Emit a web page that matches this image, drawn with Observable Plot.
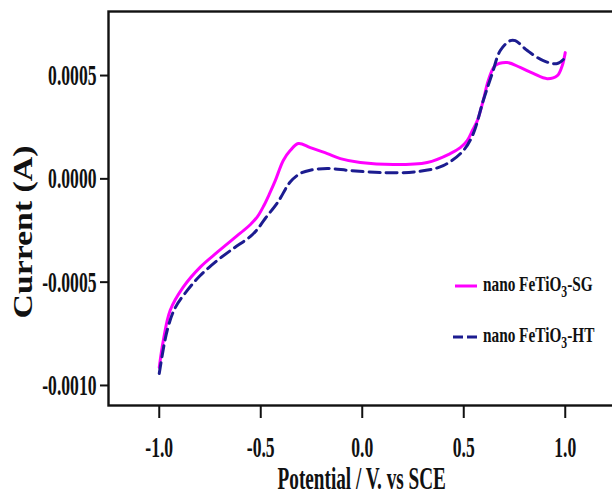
<!DOCTYPE html>
<html><head><meta charset="utf-8">
<script src="https://cdn.jsdelivr.net/npm/d3@7"></script>
<script src="https://cdn.jsdelivr.net/npm/@observablehq/plot@0.6"></script>
<style>
html,body{margin:0;padding:0;background:#fff;overflow:hidden;width:612px;height:496px;}
#chart{position:relative;width:612px;height:496px;overflow:hidden;}
#chart svg{max-width:none !important;width:640px !important;height:496px !important;display:block;}
</style></head><body><div id="chart"></div>
<script>
// Series: nano FeTiO3-SG (solid magenta)
const sgPotential = [-1.0, -0.98, -0.946, -0.882, -0.798, -0.714, -0.601, -0.552, -0.517, -0.485, -0.455, -0.429, -0.389, -0.355, -0.315, -0.256, -0.172, -0.108, -0.010, 0.153, 0.320, 0.433, 0.483, 0.517, 0.542, 0.567, 0.596, 0.621, 0.655, 0.714, 0.778, 0.842, 0.911, 0.961, 0.985, 1.0];
const sgCurrent = [-0.000913, -0.000782, -0.000636, -0.000524, -0.000427, -0.000355, -0.000263, -0.000222, -0.000184, -0.000130, -0.000068, -0.000010, 0.000089, 0.000137, 0.000171, 0.000151, 0.000122, 0.000098, 0.000079, 0.000069, 0.000079, 0.000122, 0.000151, 0.000185, 0.000233, 0.000282, 0.000379, 0.000476, 0.000548, 0.000563, 0.000539, 0.000510, 0.000485, 0.000500, 0.000548, 0.000611];
// Series: nano FeTiO3-HT (dashed navy)
const htPotential = [-1.0, -0.961, -0.921, -0.862, -0.798, -0.714, -0.635, -0.552, -0.515, -0.478, -0.414, -0.355, -0.305, -0.256, -0.172, -0.059, 0.103, 0.271, 0.399, 0.498, 0.547, 0.596, 0.640, 0.680, 0.729, 0.754, 0.813, 0.892, 0.961, 1.0];
const htCurrent = [-0.000942, -0.000734, -0.000623, -0.000540, -0.000468, -0.000395, -0.000337, -0.000280, -0.000242, -0.000192, -0.000110, -0.000015, 0.000026, 0.000042, 0.000050, 0.000040, 0.000030, 0.000035, 0.000064, 0.000137, 0.000219, 0.000379, 0.000509, 0.000621, 0.000669, 0.000669, 0.000621, 0.000572, 0.000558, 0.000587];

const xTicks = [-1.0, -0.5, 0.0, 0.5, 1.0];
const yTicks = [-0.0010, -0.0005, 0.0000, 0.0005];
const seriesNames = ["SG", "HT"];
const seriesColors = ["#ff00ff", "#1c1c90"];
const xLabel = "Potential / V. vs SCE";
const yLabel = "Current (A)";

const sg = sgPotential.map((v, k) => ({v, i: sgCurrent[k]}));
const ht = htPotential.map((v, k) => ({v, i: htCurrent[k]}));

const FONT = "'Liberation Serif', 'Times New Roman', serif";

const plot = Plot.plot({
  width: 640, height: 496,
  marginLeft: 108, marginRight: 24.5, marginTop: 11, marginBottom: 91,
  style: {fontFamily: FONT, fontWeight: "bold", fontSize: "22px", color: "#111", background: "#fff", overflow: "visible", maxWidth: "none"},
  x: {domain: [-1.25, 1.25]},
  y: {domain: [-0.001097, 0.000810]},
  marks: [
    Plot.line(sg, {x: "v", y: "i", stroke: seriesColors[0], strokeWidth: 3, curve: "catmull-rom"}),
    Plot.line(ht, {x: "v", y: "i", stroke: seriesColors[1], strokeWidth: 3, strokeDasharray: "11,6", curve: "catmull-rom"}),
    Plot.frame({stroke: "#111", strokeWidth: 2.4}),
    Plot.axisX({ticks: xTicks, tickFormat: d => d.toFixed(1), tickSize: 13, tickPadding: 17, strokeWidth: 2, label: null, fontSize: 22, fill: "#111"}),
    Plot.axisY({ticks: yTicks, tickFormat: d => d.toFixed(4), tickSize: 8, tickPadding: 4, strokeWidth: 2, label: null, fontSize: 22, fill: "#111"})
  ]
});
document.getElementById("chart").appendChild(plot);

function stretch(node, sx, sy) {
  const x = node.getAttribute("x"), y = node.getAttribute("y");
  const pre = node.getAttribute("transform") || "";
  let tx = 0, ty = 0;
  if (x && !/em$/.test(x)) { tx = +x; node.removeAttribute("x"); }
  if (y && !/em$/.test(y)) { ty = +y; node.removeAttribute("y"); }
  node.setAttribute("transform", `${pre} translate(${tx},${ty}) scale(${sx},${sy})`);
}
const svg = d3.select(plot);
svg.selectAll('g[aria-label="x-axis tick label"] text, g[aria-label="y-axis tick label"] text')
  .each(function () { stretch(this, 0.8, 1.36); });

const xs = plot.scale("x");
const cx = (xs.range[0] + xs.range[1]) / 2;

svg.append("text")
  .attr("transform", `translate(${cx},489) scale(0.8,1.32)`)
  .attr("text-anchor", "middle")
  .attr("font-family", FONT).attr("font-weight", "bold").attr("font-size", 24).attr("fill", "#111")
  .text(xLabel);

svg.append("text")
  .attr("transform", `translate(23,232) rotate(-90) scale(1.3,1.05)`)
  .attr("text-anchor", "middle").attr("dominant-baseline", "central")
  .attr("font-family", FONT).attr("font-weight", "bold").attr("font-size", 26).attr("fill", "#111")
  .text(yLabel);

// legend
const leg = svg.append("g").attr("font-family", FONT).attr("font-weight", "bold").attr("font-size", 17).attr("fill", "#111").attr("text-anchor", "start");
const rows = [{y: 286, dash: null}, {y: 337, dash: "10,4"}];
rows.forEach((r, k) => {
  leg.append("line").attr("x1", k ? 453 : 455).attr("x2", k ? 479 : 477).attr("y1", r.y).attr("y2", r.y)
    .attr("stroke", seriesColors[k]).attr("stroke-width", 3).attr("stroke-dasharray", r.dash);
  const t = leg.append("text").attr("text-anchor", "start").attr("transform", `translate(483,${r.y + 5}) scale(0.9,1.25)`);
  t.append("tspan").text("nano FeTiO");
  t.append("tspan").attr("dy", 5).attr("font-size", 13).text("3");
  t.append("tspan").attr("dy", -5).text("-" + seriesNames[k]);
});
</script>
</body></html>
